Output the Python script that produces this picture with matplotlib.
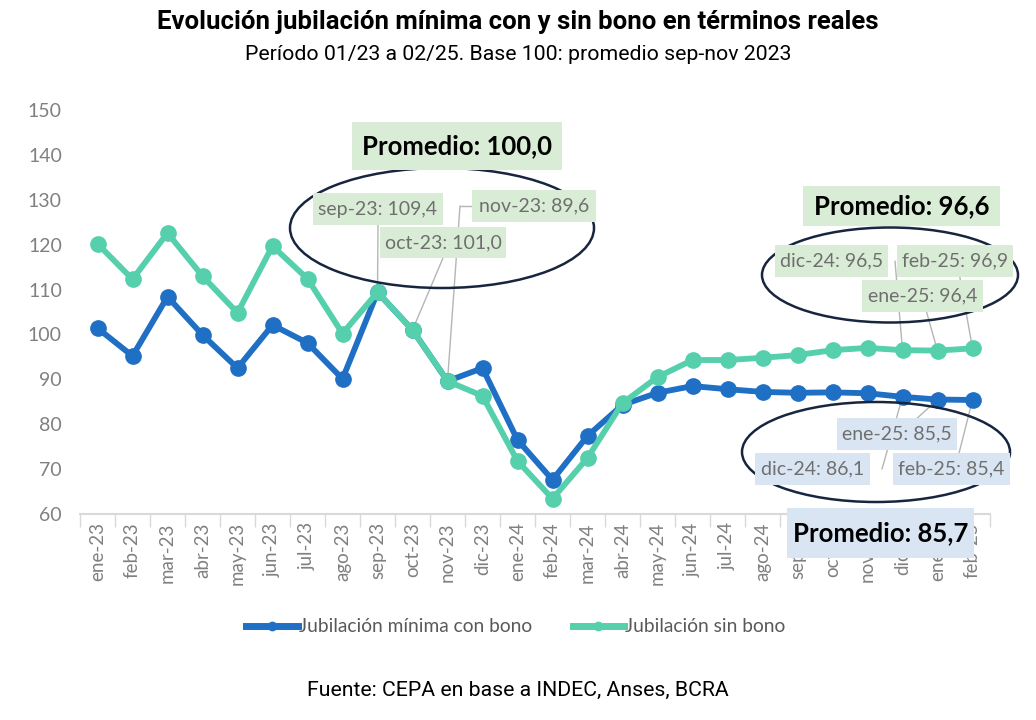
import matplotlib.pyplot as plt
from matplotlib.patches import Ellipse, Rectangle
from matplotlib.lines import Line2D

meses = ["ene-23", "feb-23", "mar-23", "abr-23", "may-23", "jun-23", "jul-23",
         "ago-23", "sep-23", "oct-23", "nov-23", "dic-23", "ene-24", "feb-24",
         "mar-24", "abr-24", "may-24", "jun-24", "jul-24", "ago-24", "sep-24",
         "oct-24", "nov-24", "dic-24", "ene-25", "feb-25"]
con_bono = [101.4, 95.2, 108.4, 99.9, 92.5, 102.1, 98.1, 90.1, 109.4, 101.0,
            89.6, 92.5, 76.5, 67.6, 77.4, 84.3, 87.0, 88.5, 87.8, 87.2, 87.0,
            87.1, 86.9, 86.1, 85.5, 85.4]
sin_bono = [120.2, 112.3, 122.6, 113.0, 104.8, 119.7, 112.4, 100.2, 109.4, 101.0,
            89.6, 86.3, 71.8, 63.4, 72.5, 84.7, 90.5, 94.3, 94.3, 94.8, 95.4,
            96.5, 97.0, 96.5, 96.4, 96.9]
yticks = [60, 70, 80, 90, 100, 110, 120, 130, 140, 150]

AZUL = "#1f6fc4"
VERDE = "#55cfac"
GRIS = "#808080"
CAJA_V = "#d9ecd5"
CAJA_A = "#dae5f3"
W, H = 1036, 720


def px(x, y):
    return (x / W, 1 - y / H)


fig = plt.figure(figsize=(W / 100, H / 100), dpi=100)
ax = fig.add_axes([80 / W, 1 - 514 / H, 910 / W, 404 / H])

x = list(range(len(meses)))
ax.plot(x, con_bono, color=AZUL, lw=4.2, marker="o", ms=11, zorder=3)
ax.plot(x, sin_bono, color=VERDE, lw=4.2, marker="o", ms=11, zorder=4)

ax.set_xlim(-0.5, len(meses) - 0.5)
ax.set_ylim(60, 150)
ax.set_yticks(yticks)
ax.set_yticklabels([str(v) for v in yticks], fontsize=14, color=GRIS, family="Lato")
ax.set_xticks(x)
ax.set_xticklabels(meses, rotation=90, fontsize=13.5, color=GRIS, family="Lato")
ax.set_xticks([i + 0.5 for i in range(-1, len(meses))], minor=True)
ax.tick_params(axis="y", length=0, pad=13)
ax.tick_params(axis="x", which="major", length=0, pad=6)
ax.tick_params(axis="x", which="minor", length=9, color="#d9d9d9", width=1)
for s in ["top", "right", "left"]:
    ax.spines[s].set_visible(False)
ax.spines["bottom"].set_color("#d9d9d9")
ax.spines["bottom"].set_linewidth(1.5)

# titulos
fig.text(0.5, 1 - 22 / H, "Evolución jubilación mínima con y sin bono en términos reales",
         ha="center", va="center", fontsize=18.5, fontweight="bold", family="Roboto")
fig.text(0.5, 1 - 55 / H, "Período 01/23 a 02/25. Base 100: promedio sep-nov 2023",
         ha="center", va="center", fontsize=15.3, family="Roboto")
fig.text(0.5, 1 - 690 / H, "Fuente: CEPA en base a INDEC, Anses, BCRA",
         ha="center", va="center", fontsize=15.3, family="Roboto")


def caja(x0, y0, x1, y1, texto, color, size=14, bold=False, tcolor="#6f6f6f"):
    fig.add_artist(Rectangle(px(x0, y1), (x1 - x0) / W, (y1 - y0) / H,
                             transform=fig.transFigure, fc=color, ec="none", zorder=4))
    fig.text((x0 + x1) / 2 / W, 1 - (y0 + y1) / 2 / H, texto, ha="center", va="center",
             fontsize=size, color=tcolor, family="Lato",
             fontweight="bold" if bold else "normal", zorder=5)


def guia(i, val, x0, y0):
    ax.annotate("", xy=(i, val), xycoords="data", xytext=px(x0, y0),
                textcoords="figure fraction", annotation_clip=False,
                arrowprops=dict(arrowstyle="-", color="#b5b5b5", lw=1,
                                shrinkA=0, shrinkB=0), zorder=2)


def elipse(cx, cy, w, h):
    fig.add_artist(Ellipse(px(cx, cy), w / W, h / H, transform=fig.transFigure,
                           fill=False, ec="#17253f", lw=1.8, zorder=3))


def etiqueta(mes, val):
    return f"{mes}: {val:.1f}".replace(".", ",")


# grupo sep-nov 2023
elipse(442, 228, 304, 120)
guia(8, sin_bono[8], 378, 225)
guia(9, sin_bono[9], 443, 258)
guia(10, sin_bono[10], 460, 206)
fig.add_artist(Line2D([460 / W, 472 / W], [1 - 206 / H, 1 - 206 / H],
                      transform=fig.transFigure, color="#b5b5b5", lw=1, zorder=3))
caja(313, 193, 443, 225, etiqueta(meses[8], sin_bono[8]), CAJA_V)
caja(380, 227, 506, 258, etiqueta(meses[9], sin_bono[9]), CAJA_V)
caja(472, 190, 596, 222, etiqueta(meses[10], sin_bono[10]), CAJA_V)
caja(352, 122, 562, 170, "Promedio: 100,0", CAJA_V, size=18.5, bold=True, tcolor="black")

# grupo sin bono dic-24 a feb-25
elipse(890, 275, 256, 95)
guia(23, sin_bono[23], 895, 261)
guia(24, sin_bono[24], 922, 296)
guia(25, sin_bono[25], 957, 261)
caja(775, 245, 888, 277, etiqueta(meses[23], sin_bono[23]), CAJA_V)
caja(897, 245, 1013, 277, etiqueta(meses[25], sin_bono[25]), CAJA_V)
caja(862, 280, 983, 312, etiqueta(meses[24], sin_bono[24]), CAJA_V)
caja(803, 186, 1000, 226, "Promedio: 96,6", CAJA_V, size=18.5, bold=True, tcolor="black")

# grupo con bono dic-24 a feb-25
elipse(876, 452, 268, 100)
guia(23, con_bono[23], 882, 469)
guia(24, con_bono[24], 900, 434)
guia(25, con_bono[25], 955, 469)
caja(837, 418, 957, 450, etiqueta(meses[24], con_bono[24]), CAJA_A)
caja(755, 453, 870, 485, etiqueta(meses[23], con_bono[23]), CAJA_A)
caja(893, 453, 1010, 485, etiqueta(meses[25], con_bono[25]), CAJA_A)
caja(787, 508, 974, 558, "Promedio: 85,7", CAJA_A, size=18.5, bold=True, tcolor="black")

# leyenda
h1 = Line2D([], [], color=AZUL, lw=5, marker="o", ms=6)
h2 = Line2D([], [], color=VERDE, lw=5, marker="o", ms=6)
leg = fig.legend([h1, h2], ["Jubilación mínima con bono", "Jubilación sin bono"],
                 loc="center", bbox_to_anchor=px(516, 627), ncol=2, frameon=False,
                 handlelength=2.7, handletextpad=0.05, columnspacing=2.1,
                 prop={"family": "Lato", "size": 13.8})
for t in leg.get_texts():
    t.set_color("#595959")

fig.savefig("out.png", dpi=100)
